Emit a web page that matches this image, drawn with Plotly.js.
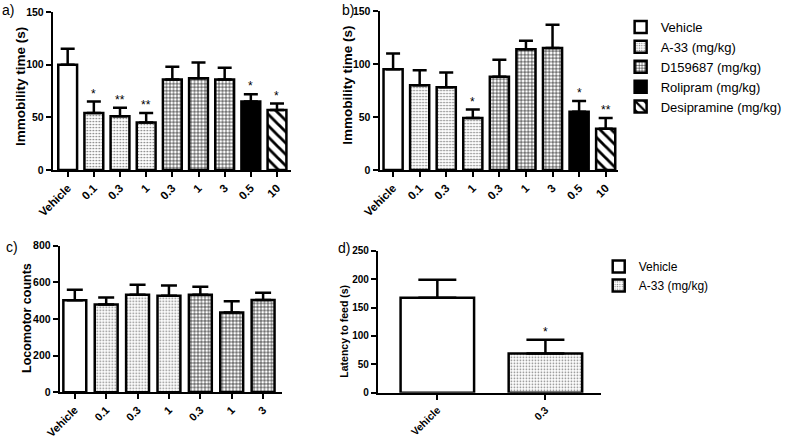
<!DOCTYPE html>
<html>
<head>
<meta charset="utf-8">
<script src="https://cdn.plot.ly/plotly-3.0.1.min.js"></script>
<style>html,body{margin:0;padding:0;background:#fff;}#chart{width:787px;height:439px;}</style>
</head>
<body>
<div id="chart"></div>
<script>
// ---- data ----
const legendNames = {
  'Vehicle': 'Vehicle',
  'A-33': 'A-33 (mg/kg)',
  'D159687': 'D159687 (mg/kg)',
  'Rolipram': 'Rolipram (mg/kg)',
  'Desipramine': 'Desipramine (mg/kg)'
};
const groupOrder = ['Vehicle', 'A-33', 'D159687', 'Rolipram', 'Desipramine'];

const aCats = ['Vehicle', '0.1', '0.3', '1', '0.3', '1', '3', '0.5', '10'];
const aGroups = ['Vehicle', 'A-33', 'A-33', 'A-33', 'D159687', 'D159687', 'D159687', 'Rolipram', 'Desipramine'];
const aMeans = [100, 54, 51, 45, 86, 87, 86, 65, 57];
const aSem = [15, 11, 8, 9, 12, 15, 11, 7, 6];
const aStars = ['', '*', '**', '**', '', '', '', '*', '*'];

const bCats = ['Vehicle', '0.1', '0.3', '1', '0.3', '1', '3', '0.5', '10'];
const bGroups = ['Vehicle', 'A-33', 'A-33', 'A-33', 'D159687', 'D159687', 'D159687', 'Rolipram', 'Desipramine'];
const bMeans = [95, 80, 78, 49, 88, 114, 115, 55, 39];
const bSem = [15, 14, 14, 8, 16, 8, 22, 10, 10];
const bStars = ['', '', '', '*', '', '', '', '*', '**'];

const cCats = ['Vehicle', '0.1', '0.3', '1', '0.3', '1', '3'];
const cGroups = ['Vehicle', 'A-33', 'A-33', 'A-33', 'D159687', 'D159687', 'D159687'];
const cMeans = [502, 479, 533, 527, 533, 436, 504];
const cSem = [58, 38, 54, 56, 43, 61, 39];
const cStars = ['', '', '', '', '', '', ''];

const dCats = ['Vehicle', '0.3'];
const dGroups = ['Vehicle', 'A-33'];
const dMeans = [167, 69];
const dSem = [32, 24];
const dStars = ['', '*'];

const yTitles = ['Immobility time (s)', 'Immobility time (s)', 'Locomotor counts', 'Latency to feed (s)'];

// ---- styles ----
const FONT = 'Liberation Sans, Arial, sans-serif';
const groupStyle = {
  'Vehicle': {color: '#ffffff', pattern: {shape: ''}},
  'A-33': {color: '#ffffff', pattern: {shape: '.', fgcolor: '#7a7a7a', bgcolor: '#fff', size: 3, solidity: 0.25}},
  'D159687': {color: '#ffffff', pattern: {shape: '+', fgcolor: '#000', bgcolor: '#fff', size: 3.5, solidity: 0.3}},
  'Rolipram': {color: '#000000', pattern: {shape: ''}},
  'Desipramine': {color: '#ffffff', pattern: {shape: '\\', fgcolor: '#000', bgcolor: '#fff', size: 8, solidity: 0.35}}
};

const traces = [];
const annotations = [];

function addPanel(ax, cats, groups, means, sem, stars, barWidth, capW, legendOpts) {
  const xa = 'x' + (ax === 1 ? '' : ax);
  const ya = 'y' + (ax === 1 ? '' : ax);
  groupOrder.forEach(g => {
    const idx = [];
    groups.forEach((gg, i) => { if (gg === g) idx.push(i); });
    if (!idx.length) return;
    const st = groupStyle[g];
    traces.push({
      type: 'bar',
      name: legendNames[g],
      x: idx,
      y: idx.map(i => means[i]),
      width: barWidth,
      xaxis: xa, yaxis: ya,
      marker: {color: st.color, line: {color: '#000', width: 2.5}, pattern: st.pattern},
      error_y: {type: 'data', symmetric: false, array: idx.map(i => sem[i]), arrayminus: idx.map(() => 0),
                color: '#000', thickness: 2.5, width: capW},
      showlegend: !!legendOpts,
      legend: legendOpts ? legendOpts : 'legend',
      hoverinfo: 'skip'
    });
  });
  stars.forEach((s, i) => {
    if (!s) return;
    annotations.push({
      xref: xa, yref: ya, x: i, y: means[i] + sem[i], text: s, showarrow: false,
      yanchor: 'bottom', yshift: -1, font: {family: FONT, size: 12, color: '#000'}
    });
  });
}

addPanel(1, aCats, aGroups, aMeans, aSem, aStars, 0.72, 7, 'legend');
addPanel(2, bCats, bGroups, bMeans, bSem, bStars, 0.72, 7, null);
addPanel(3, cCats, cGroups, cMeans, cSem, cStars, 0.73, 8, null);
addPanel(4, dCats, dGroups, dMeans, dSem, dStars, 0.68, 19, 'legend2');

function xAxis(domain, anchor, cats, range, fs) {
  return {
    domain: domain, anchor: anchor, range: range,
    tickmode: 'array', tickvals: cats.map((c, i) => i), ticktext: cats,
    tickangle: -45, showline: true, linecolor: '#000', linewidth: 2,
    ticks: 'outside', ticklen: 5, tickwidth: 2, tickcolor: '#000',
    showgrid: false, zeroline: false, fixedrange: true,
    tickfont: {family: FONT, size: fs, color: '#000', weight: 'bold'}
  };
}
function yAxis(domain, anchor, range, dtick, tickSize) {
  return {
    domain: domain, anchor: anchor, range: range, dtick: dtick, tick0: 0,
    showline: true, linecolor: '#000', linewidth: 2,
    ticks: 'outside', ticklen: 5, tickwidth: 2, tickcolor: '#000',
    showgrid: false, zeroline: false, fixedrange: true,
    tickfont: {family: FONT, size: tickSize, color: '#000', weight: 'bold'}
  };
}

function paperText(t, x, y, size, opts) {
  return Object.assign({xref: 'paper', yref: 'paper', x: x / 787, y: 1 - y / 439, xanchor: 'center', yanchor: 'middle',
          text: t, showarrow: false, font: {family: FONT, size: size, color: '#000'}}, opts || {});
}
// y-axis titles (rotated)
annotations.push(paperText(yTitles[0], 20, 86, 13.5, {textangle: -90, font: {family: FONT, size: 13.5, color: '#000', weight: 'bold'}}));
annotations.push(paperText(yTitles[1], 348, 85, 13.5, {textangle: -90, font: {family: FONT, size: 13.5, color: '#000', weight: 'bold'}}));
annotations.push(paperText(yTitles[2], 27, 318, 12.5, {textangle: -90, font: {family: FONT, size: 12.5, color: '#000', weight: 'bold'}}));
annotations.push(paperText(yTitles[3], 345, 331, 10.5, {textangle: -90, font: {family: FONT, size: 10.5, color: '#000', weight: 'bold'}}));
// panel labels
annotations.push(paperText('a)', 0, 10, 14, {xanchor: 'left'}));
annotations.push(paperText('b)', 341, 10, 14, {xanchor: 'left'}));
annotations.push(paperText('c)', 4, 247, 14, {xanchor: 'left'}));
annotations.push(paperText('d)', 337, 248, 14, {xanchor: 'left'}));

const layout = {
  width: 787, height: 439,
  margin: {l: 0, r: 0, t: 0, b: 0},
  paper_bgcolor: '#fff', plot_bgcolor: 'rgba(0,0,0,0)',
  barmode: 'overlay',
  showlegend: true,
  font: {family: FONT, color: '#000'},
  xaxis: xAxis([0.0673, 0.371], 'y', aCats, [-0.57, 8.53], 11.5),
  yaxis: yAxis([0.6128, 0.9727], 'x', [0, 150], 50, 10.5),
  xaxis2: xAxis([0.4841, 0.7878], 'y2', bCats, [-0.51, 8.45], 11.5),
  yaxis2: yAxis([0.6128, 0.975], 'x2', [0, 150], 50, 10.5),
  xaxis3: xAxis([0.0762, 0.3596], 'y3', cCats, [-0.48, 6.6], 11),
  yaxis3: yAxis([0.1064, 0.4403], 'x3', [0, 800], 200, 10.5),
  xaxis4: xAxis([0.482, 0.766], 'y4', dCats, [-0.55, 1.51], 10.5),
  yaxis4: yAxis([0.1055, 0.4289], 'x4', [0, 250], 50, 10),
  legend: {x: 623 / 787, y: 1 - 12 / 439, xanchor: 'left', yanchor: 'top', bgcolor: 'rgba(0,0,0,0)',
           font: {family: FONT, size: 13, color: '#000'}, traceorder: 'normal'},
  legend2: {x: 601 / 787, y: 1 - 252 / 439, xanchor: 'left', yanchor: 'top', bgcolor: 'rgba(0,0,0,0)',
            font: {family: FONT, size: 12, color: '#000'}, traceorder: 'normal'},
  annotations: annotations
};

Plotly.newPlot('chart', traces, layout, {staticPlot: true, displayModeBar: false});
</script>
</body>
</html>
